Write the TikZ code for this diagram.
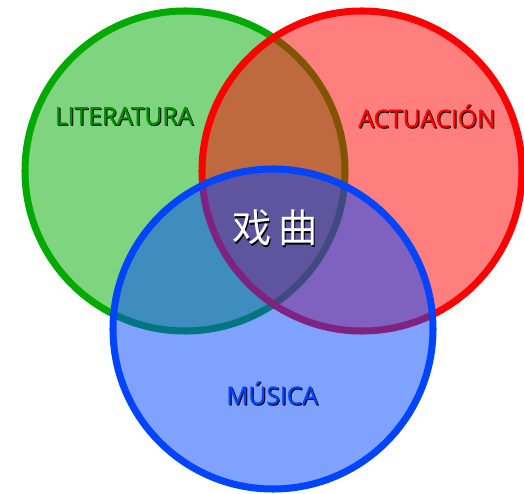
\documentclass[tikz,border=0pt]{standalone}
\usepackage{fontspec}
\setmainfont{Open Sans}[FakeBold=0.8]
\newfontfamily\cjk{Noto Sans CJK SC}
\usepackage{tikz}
\usetikzlibrary{calc}
\definecolor{vgreen}{RGB}{0,170,0}
\definecolor{vred}{RGB}{255,0,0}
\definecolor{vblue}{RGB}{0,68,255}
\tikzset{set/.style={line width=5pt, fill opacity=0.5},
  lbl/.style={font=\fontsize{17.5}{19}\selectfont}}

\begin{document}
\begin{tikzpicture}
\useasboundingbox (0,0) rectangle (13.1,12.35);
\draw[set, vgreen, fill=vgreen] (4.625, 8.075) circle (4);
\draw[set, vred, fill=vred] (9.05, 8.075) circle (4);
\draw[set, vblue, fill=vblue] (6.825, 4.125) circle (4);
% labels with a small shadow
\node[lbl, black] (litS) at (3.125, 9.425) {LITERATURA};
\node[lbl, vgreen!85!black] (lit) at (3.1, 9.45) {LITERATURA};
\node[lbl, black] (actS) at (10.7, 9.425) {ACTUACIÓN};
\node[lbl, vred] (act) at (10.675, 9.45) {ACTUACIÓN};
\node[lbl, black] (musS) at (6.825, 2.5) {MÚSICA};
\node[lbl, vblue] (mus) at (6.8, 2.525) {MÚSICA};
\node[font=\cjk\fontsize{28}{30}\selectfont, black] (xqS) at (6.905, 6.615) {戏\,曲};
\node[font=\cjk\fontsize{28}{30}\selectfont, white] (xq) at (6.875, 6.655) {戏\,曲};
\end{tikzpicture}
\end{document}
